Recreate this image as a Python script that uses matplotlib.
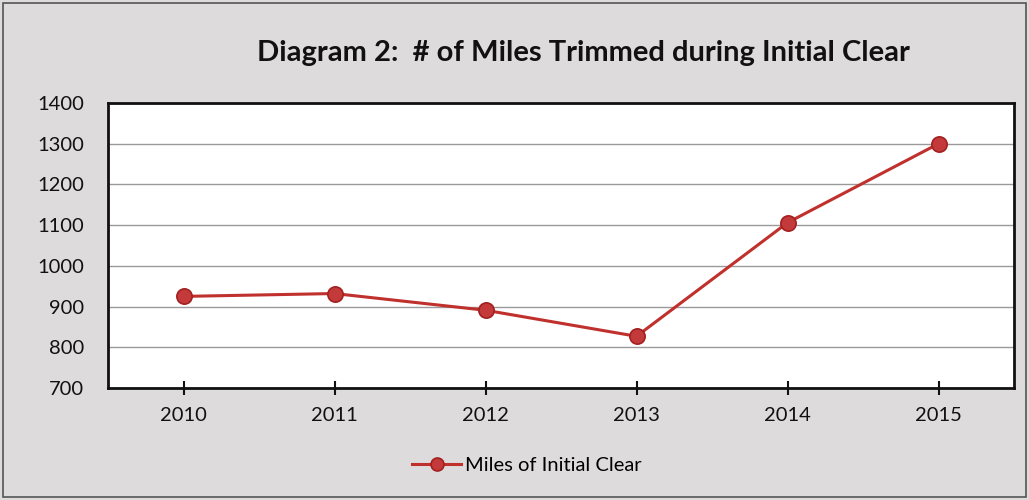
import matplotlib.pyplot as plt
from matplotlib.patches import Rectangle

# data
years = ['2010', '2011', '2012', '2013', '2014', '2015']
miles = [925, 932, 891, 827, 1106, 1300]
y_ticks = [700, 800, 900, 1000, 1100, 1200, 1300, 1400]

plt.rcParams['font.family'] = ['Lato', 'DejaVu Sans']

fig = plt.figure(figsize=(10.29, 5.0), dpi=100, facecolor='#dedbdc')
ax = fig.add_axes([108 / 1029, 1 - 388 / 500, (1014 - 108) / 1029, (388 - 103) / 500])
ax.set_facecolor('white')

# outer frame of the chart area
fig.patches.append(Rectangle((0.003, 0.006), 0.994, 0.988, transform=fig.transFigure,
                             fill=False, edgecolor='#555555', linewidth=1.2))

x = range(len(years))
ax.plot(x, miles, color='#c0302c', linewidth=2.2, marker='o', markersize=11,
        markerfacecolor='#c43a3a', markeredgecolor='#a32020', markeredgewidth=1.2,
        label='Miles of Initial Clear', zorder=3)

ax.set_xlim(-0.5, len(years) - 0.5)
ax.set_ylim(700, 1400)
ax.set_xticks(list(x))
ax.set_xticklabels(years)
ax.set_yticks(y_ticks)
ax.yaxis.grid(True, color='#9a9a9a', linewidth=1.0)
ax.set_axisbelow(True)

for s in ax.spines.values():
    s.set_linewidth(2.0)
    s.set_color('#111111')

ax.tick_params(axis='x', direction='inout', length=10, width=1.5, labelsize=14.5, pad=9, colors='#111111')
ax.tick_params(axis='y', length=0, labelsize=14.5, pad=17, colors='#111111')

fig.text(0.567, 0.893, 'Diagram 2:  # of Miles Trimmed during Initial Clear',
         ha='center', va='center', fontsize=21, fontweight='bold', color='#111111')

fig.legend(loc='center', bbox_to_anchor=(0.512, 0.07), frameon=False, fontsize=14.5,
           handlelength=2.4, handletextpad=0.2, markerscale=0.85)

fig.savefig('out.png', dpi=100, facecolor=fig.get_facecolor())
